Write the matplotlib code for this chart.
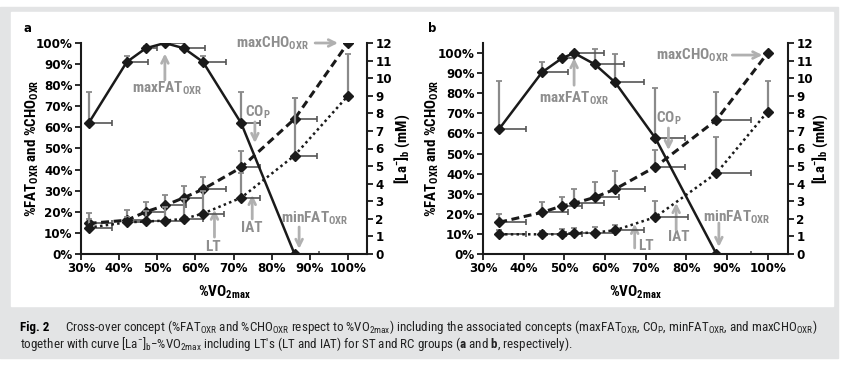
import matplotlib
matplotlib.use("Agg")
import matplotlib.pyplot as plt
from matplotlib import font_manager
from matplotlib.patches import Rectangle

# ST group (panel a)
a_fat_x = [32, 42, 47, 52, 57, 62, 72, 86]
a_fat = [62, 91, 97.5, 100, 97.5, 91, 62, 0]
a_fat_up = [15, 3, 1, 0, 0, 3, 15, 0]
a_fat_right = [6, 5.5, 3, 5, 5.5, 6, 5, 6.5]

a_x = [32, 42, 47, 52, 57, 62, 72, 86, 100]
a_cho = [14.5, 16, 20, 23, 26.7, 30.7, 41, 64, 100]
a_cho_up = [5, 5, 4.5, 5, 5.5, 6, 8, 10, 0]
a_cho_right = [6, 5, 5, 5.5, 5, 6, 5, 6, 0]
a_lac = [1.5, 1.8, 1.85, 1.9, 2.0, 2.3, 3.2, 5.6, 9.0]
a_lac_up = [0.5, 0.3, 0.6, 0.8, 1.1, 1.3, 1.4, 3.3, 2.4]
a_lac_right = [6, 5, 5, 5, 5, 5.5, 5, 6, 0]

# RC group (panel b)
b_fat_x = [34, 44.5, 49.4, 52.4, 57.5, 62.5, 72.4, 87.4]
b_fat = [62.3, 90.4, 97.4, 100, 94.4, 85.4, 57.6, 0]
b_fat_up = [24, 5, 1, 0, 7.5, 14, 25, 0]
b_fat_right = [6.5, 6.5, 3, 7.3, 7.2, 7.2, 7.2, 8.6]

b_x = [34, 44.5, 49.4, 52.4, 57.5, 62.5, 72.4, 87.4, 100]
b_cho = [15.8, 20.7, 23.9, 25.2, 28.2, 32.3, 43.4, 66.7, 100]
b_cho_up = [4, 5, 4.6, 7, 7.8, 9, 8.5, 13.7, 0]
b_cho_right = [6.5, 6.3, 5, 7.3, 6, 7.3, 7.2, 8.6, 0]
b_lac = [1.12, 1.12, 1.12, 1.18, 1.22, 1.35, 2.1, 4.6, 8.1]
b_lac_up = [0.25, 0.2, 0.3, 0.3, 0.3, 0.3, 0.9, 2.05, 1.75]
b_lac_right = [6.5, 6, 5, 5, 5, 7, 8, 8.6, 0]

names = {f.name for f in font_manager.fontManager.ttflist}
narrow = next((n for n in ["Liberation Sans Narrow", "DejaVu Sans Condensed",
                           "Roboto Condensed", "Liberation Sans"] if n in names),
              "DejaVu Sans")

plt.rcParams["font.family"] = ["DejaVu Sans"]
plt.rcParams["mathtext.fontset"] = "custom"
plt.rcParams["mathtext.rm"] = narrow
plt.rcParams["mathtext.bf"] = narrow + ":bold"
plt.rcParams["mathtext.it"] = narrow + ":italic"
plt.rcParams["mathtext.sf"] = narrow

INK = "#1a1a1a"
GREY_TXT = "#8e8e8e"
GREY_ARR = "#b0b0b0"

W, H = 850, 368


def fx(px):
    return px / W


def fy(py):
    return 1 - py / H


def draw_series(ax, x, y, up, right, style, z=3):
    xs = [xi for xi, u in zip(x, up) if u > 0]
    ys = [yi for yi, u in zip(y, up) if u > 0]
    us = [u for u in up if u > 0]
    ax.errorbar(xs, ys, yerr=[[0] * len(us), us], fmt="none", ecolor="#8a8a8a",
                elinewidth=1.6, capsize=2.5, capthick=1.3, zorder=2)
    xs = [xi for xi, r in zip(x, right) if r > 0]
    ys = [yi for yi, r in zip(y, right) if r > 0]
    rs = [r for r in right if r > 0]
    ax.errorbar(xs, ys, xerr=[[0] * len(rs), rs], fmt="none", ecolor="#555555",
                elinewidth=1.2, capsize=2.5, capthick=1.2, zorder=2)
    ax.plot(x, y, color=INK, marker="D", ms=5, **style, zorder=z)


def arrow(ax, start, end):
    ax.annotate("", xy=end, xytext=start,
                arrowprops=dict(arrowstyle="->", color=GREY_ARR, lw=2,
                                mutation_scale=12, shrinkA=0, shrinkB=0))


def label(ax, x, y, s):
    ax.text(x, y, s, color=GREY_TXT, fontsize=11, fontweight="bold",
            family=narrow, ha="center", va="center")


def panel(rect, ytop, fat, cho, lac, notes, letter, letter_xy, ylab_x, rlab_x):
    ax = fig.add_axes(rect)
    ax2 = ax.twinx()
    ax.set_xlim(30, 105)
    ax.set_ylim(0, ytop)
    ax2.set_ylim(0, 12)
    ax.patch.set_alpha(0)

    draw_series(ax, *fat, dict(ls="-", lw=1.8))
    draw_series(ax, *cho, dict(ls=(0, (2.6, 1.5)), lw=2.2))
    draw_series(ax2, *lac, dict(ls=(0, (1, 1.3)), lw=1.8))

    ax.set_xticks(range(30, 101, 10))
    ax.set_xticklabels([f"{v}%" for v in range(30, 101, 10)])
    ax.set_yticks(range(0, 101, 10))
    ax.set_yticklabels([f"{v}%" for v in range(0, 101, 10)])
    ax2.set_yticks(range(0, 13))
    for a in (ax, ax2):
        a.spines["top"].set_visible(False)
        for sp in a.spines.values():
            sp.set_linewidth(1.5)
            sp.set_color(INK)
        a.tick_params(length=4, width=1.3, color=INK, labelsize=8.6, pad=2)
        for t in a.get_xticklabels() + a.get_yticklabels():
            t.set_fontweight("bold")
    ax.spines["right"].set_visible(False)
    ax2.spines["left"].set_visible(False)
    ax2.spines["bottom"].set_visible(False)

    for (tx, ty, s), (s0, s1) in notes:
        label(ax, tx, ty, s)
        arrow(ax, s0, s1)

    fig.text(fx(letter_xy[0]), fy(letter_xy[1]), letter, fontsize=8.5,
             fontweight="bold", ha="left", va="center")
    fig.text(fx(ylab_x), rect[1] + rect[3] / 2,
             r"%FAT$_{\mathbf{OXR}}$ and %CHO$_{\mathbf{OXR}}$", rotation=90,
             family=narrow, fontweight="bold", fontsize=10.8, ha="center", va="center")
    fig.text(fx(rlab_x), rect[1] + rect[3] / 2,
             r"[La$^{\mathbf{-}}$]$_{\mathbf{b}}$ (mM)", rotation=90,
             family=narrow, fontweight="bold", fontsize=10.8, ha="center", va="center")
    fig.text(rect[0] + rect[2] * (67.5 - 30) / 75, fy(292),
             r"%VO$_{\mathbf{2max}}$", family=narrow, fontweight="bold",
             fontsize=11, ha="center", va="center")
    return ax


fig = plt.figure(figsize=(W / 100, H / 100), dpi=100)
fig.add_artist(Rectangle((0, fy(358)), fx(838), (358 - 7) / H,
                         transform=fig.transFigure, color="#e3e4e5", zorder=-2))
fig.add_artist(Rectangle((fx(11), fy(306)), fx(822), (306 - 12) / H,
                         transform=fig.transFigure, color="white", zorder=-1))

sub = r"$_{\mathbf{OXR}}$"
notes_a = [
    ((80.3, 100, "maxCHO" + sub), ((91.4, 100), (97.4, 100))),
    ((52.5, 78.7, "maxFAT" + sub), ((52, 82.5), (52, 95))),
    ((76.4, 67.3, r"CO$_{\mathbf{P}}$"), ((75.6, 62.6), (75.6, 52.6))),
    ((64.6, 3.3, "LT"), ((65, 8), (65, 21))),
    ((74.9, 12.3, "IAT"), ((74.9, 16.6), (74.9, 28))),
    ((91.3, 17, "minFAT" + sub), ((87.2, 12.8), (87.2, 2.4))),
]
notes_b = [
    ((81.4, 99, "maxCHO" + sub), ((91.3, 99), (98.7, 99))),
    ((52.3, 77.6, "maxFAT" + sub), ((52.4, 84), (52.4, 97.5))),
    ((75.7, 67.7, r"CO$_{\mathbf{P}}$"), ((75.6, 62.7), (75.6, 51.7))),
    ((70, 4, "LT"), ((67.3, 3), (67.3, 15))),
    ((78.1, 8.5, "IAT"), ((77.5, 12), (77.5, 25.4))),
    ((92.5, 18.4, "minFAT" + sub), ((88, 15.4), (88, 3.5))),
]

panel([fx(81), fy(254), fx(367 - 81), 211 / H], 100,
      (a_fat_x, a_fat, a_fat_up, a_fat_right),
      (a_x, a_cho, a_cho_up, a_cho_right),
      (a_x, a_lac, a_lac_up, a_lac_right),
      notes_a, "a", (23, 28), 32, 402)
panel([fx(483), fy(254), fx(788 - 483), 211 / H], 105,
      (b_fat_x, b_fat, b_fat_up, b_fat_right),
      (b_x, b_cho, b_cho_up, b_cho_right),
      (b_x, b_lac, b_lac_up, b_lac_right),
      notes_b, "b", (428, 28), 432, 820)

fig.text(fx(20), fy(327), "Fig. 2", family=narrow, fontweight="bold",
         fontsize=9.4, va="center", ha="left")
fig.text(fx(65), fy(327),
         r"Cross-over concept (%FAT$_{\mathrm{OXR}}$ and %CHO$_{\mathrm{OXR}}$ respect to "
         r"%VO$_{\mathrm{2max}}$) including the associated concepts (maxFAT$_{\mathrm{OXR}}$, "
         r"CO$_{\mathrm{P}}$, minFAT$_{\mathrm{OXR}}$, and maxCHO$_{\mathrm{OXR}}$)",
         family=narrow, fontsize=9.4, va="center", ha="left", color="#222222")
fig.text(fx(20), fy(344),
         r"together with curve [La$^{-}$]$_{\mathrm{b}}$$-$%VO$_{\mathrm{2max}}$ including LT's "
         r"(LT and IAT) for ST and RC groups ($\mathbf{a}$ and $\mathbf{b}$, respectively).",
         family=narrow, fontsize=9.4, va="center", ha="left", color="#222222")

fig.savefig("out.png", dpi=100)
